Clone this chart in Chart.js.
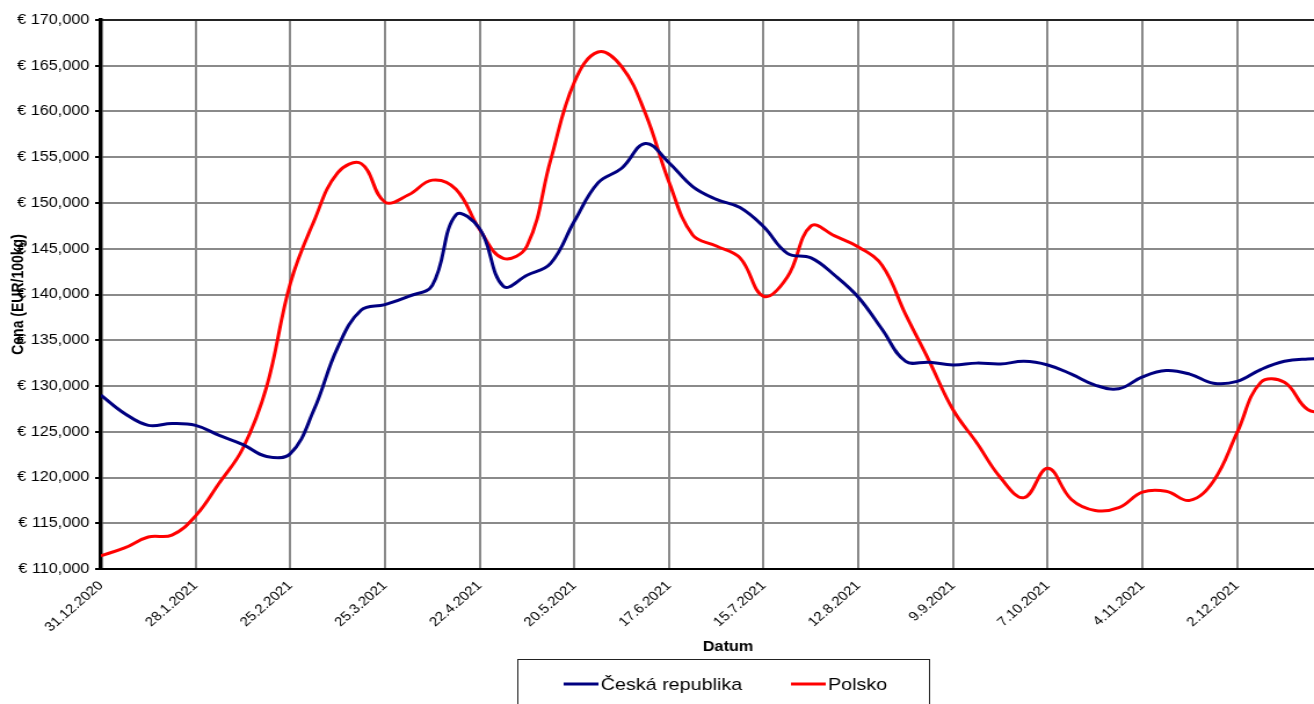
<!DOCTYPE html>
<html><head><meta charset="utf-8">
<script src="https://cdn.jsdelivr.net/npm/chart.js@4.4.1/dist/chart.umd.min.js"></script>
<style>
html,body{margin:0;padding:0;background:#fff;overflow:hidden;}
#c{display:block;}
</style></head><body>
<canvas id="c" width="1133" height="704" style="width:1314px;height:704px"></canvas>
<script>
// x tick labels (every 4th week, starting 31.12.2020)
const tickLabels = ['31.12.2020','28.1.2021','25.2.2021','25.3.2021','22.4.2021','20.5.2021','17.6.2021','15.7.2021','12.8.2021','9.9.2021','7.10.2021','4.11.2021','2.12.2021'];
const seriesNames = ['Česká republika', 'Polsko'];
const xTitle = 'Datum';
const yTitle = 'Cena (EUR/100kg)';

// weekly prices (EUR/100kg), week 0 = 31.12.2020
const ceskaRepublika = [129000,127000,125700,125900,125700,124600,123600,122300,122600,127400,
  134200,138300,138900,139800,141000,148700,147200,140900,142100,143400,
  148000,152200,153800,156500,154400,151800,150400,149500,147400,144500,
  144000,142100,139700,136200,132700,132600,132300,132500,132400,132700,
  132300,131300,130100,129700,131000,131700,131300,130300,130500,131800,
  132700,132950,133000];
const polsko = [111450,112300,113500,113700,115800,119400,123200,129900,141200,148000,
  153300,154300,150100,150900,152500,151500,147100,143950,145300,154700,
  163200,166500,164900,159800,152300,146500,145300,144000,139800,141900,
  147500,146400,145200,143200,137800,132700,127400,123800,120000,117800,
  121000,117600,116400,116700,118400,118500,117500,119600,124900,130400,
  130400,127400,127200];

const FONT = "'Liberation Sans', Arial, sans-serif";
const colors = ['#000080', '#ff0000'];

const decor = {
  id: 'decor',
  afterDraw(chart) {
    const ctx = chart.ctx, a = chart.chartArea;
    ctx.save();
    // top frame line
    ctx.strokeStyle = '#000'; ctx.lineWidth = 1.5;
    ctx.beginPath(); ctx.moveTo(a.left, a.top); ctx.lineTo(a.right, a.top); ctx.stroke();
    ctx.fillStyle = '#000';
    // y axis title
    ctx.save();
    ctx.font = 'bold 14px ' + FONT;
    ctx.translate(16, (a.top + a.bottom) / 2);
    ctx.rotate(-Math.PI / 2);
    ctx.textAlign = 'center'; ctx.textBaseline = 'middle';
    ctx.fillText(yTitle, 0, 0);
    ctx.restore();
    // x axis title
    ctx.font = 'bold 14px ' + FONT;
    ctx.textAlign = 'center'; ctx.textBaseline = 'middle';
    ctx.fillText(xTitle, a.left + (a.right - a.left) * 0.517, 647);
    // legend box
    ctx.strokeStyle = '#222'; ctx.lineWidth = 1;
    ctx.strokeRect(446.5, 659.5, 355, 60);
    const items = [{x1: 486, x2: 516, tx: 518}, {x1: 682, x2: 712, tx: 714}];
    ctx.font = '17px ' + FONT;
    ctx.textAlign = 'left'; ctx.textBaseline = 'middle';
    items.forEach((it, i) => {
      ctx.strokeStyle = colors[i]; ctx.lineWidth = 3;
      ctx.beginPath(); ctx.moveTo(it.x1, 684); ctx.lineTo(it.x2, 684); ctx.stroke();
      ctx.fillStyle = '#000';
      ctx.fillText(chart.data.datasets[i].label, it.tx, 685);
    });
    ctx.restore();
  }
};

new Chart(document.getElementById('c'), {
  type: 'line',
  data: {
    datasets: [
      {label: seriesNames[0], data: ceskaRepublika.map((v, i) => ({x: i, y: v})), borderColor: colors[0], borderWidth: 3, pointRadius: 0, tension: 0.4, fill: false},
      {label: seriesNames[1], data: polsko.map((v, i) => ({x: i, y: v})), borderColor: colors[1], borderWidth: 3, pointRadius: 0, tension: 0.4, fill: false}
    ]
  },
  options: {
    responsive: false, animation: false, devicePixelRatio: 1,
    layout: {padding: {top: 20, left: 0, right: 0, bottom: 0}},
    plugins: {legend: {display: false}, tooltip: {enabled: false}},
    scales: {
      x: {
        type: 'linear', min: 0, max: 51.25,
        afterBuildTicks: s => { s.ticks = tickLabels.map((_, i) => ({value: i * 4})); },
        ticks: {callback: v => tickLabels[Math.round(v / 4)], minRotation: 45, maxRotation: 45, autoSkip: false,
                font: {family: FONT, size: 13}, color: '#000', padding: 9},
        grid: {color: '#8a8a8a', lineWidth: 2, drawTicks: false},
        border: {color: '#000', width: 2},
        afterFit: s => { s.height = 135; }
      },
      y: {
        min: 110000, max: 170000,
        ticks: {stepSize: 5000, callback: v => '€ ' + v.toLocaleString('en-US'),
                font: {family: FONT, size: 14}, color: '#000', padding: 5},
        grid: {color: '#8a8a8a', lineWidth: 2, tickColor: '#000', tickLength: 5, tickWidth: 2},
        border: {color: '#000', width: 3.5},
        afterFit: s => { s.width = 87; }
      }
    }
  },
  plugins: [decor]
});
</script>
</body></html>
